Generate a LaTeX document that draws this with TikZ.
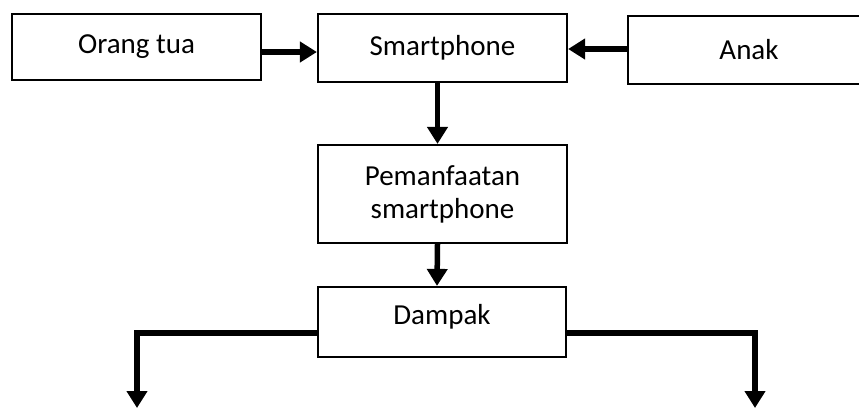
\documentclass[tikz,border=0pt]{standalone}
\usepackage{fontspec}
\setmainfont{Carlito}
\usetikzlibrary{arrows.meta}
\begin{document}
\begin{tikzpicture}[x=1pt,y=-1pt,
  box/.style={draw=black,line width=2.2pt,fill=white,inner sep=0pt,align=center,
    font=\fontsize{29}{33}\selectfont},
  conn/.style={line width=5.5pt,-{Triangle[length=17pt,width=20pt]}},
  plain/.style={line width=5.5pt}]
\useasboundingbox (0,0) rectangle (859,408);
\node[box,minimum width=249pt,minimum height=66pt] (ot) at (136.5,47) {Orang tua};
\node[box,minimum width=249pt,minimum height=68pt] (sm) at (442.5,48) {Smartphone};
\node[box,minimum width=242pt,minimum height=68pt] (an) at (749,50) {Anak};
\node[box,minimum width=249pt,minimum height=98pt] (pm) at (442.5,194) {Pemanfaatan\\smartphone};
\node[box,minimum width=248pt,minimum height=70pt] (dp) at (442,322) {};
\node[font=\fontsize{29}{33}\selectfont,inner sep=0pt] (dpt) at (442,317) {Dampak};
\coordinate (lb) at (137,408);
\coordinate (rb) at (755,408);
\draw[conn] (ot.east |- 0,52) -- (sm.west |- 0,52);
\draw[conn] (an.west |- 0,49) -- (sm.east |- 0,49);
\draw[conn] ([xshift=-5pt]sm.south) -- ([xshift=-5pt]pm.north);
\draw[conn] ([xshift=-5pt]pm.south) -- ([xshift=-5pt]dp.north);
\draw[plain] (dp.west |- 0,333) -- ([xshift=-2.75pt]lb |- 0,333);
\draw[plain] (dp.east |- 0,333) -- ([xshift=2.75pt]rb |- 0,333);
\draw[conn] ([yshift=-2.75pt]lb |- 0,333) -- (lb);
\draw[conn] ([yshift=-2.75pt]rb |- 0,333) -- (rb);
\end{tikzpicture}
\end{document}
